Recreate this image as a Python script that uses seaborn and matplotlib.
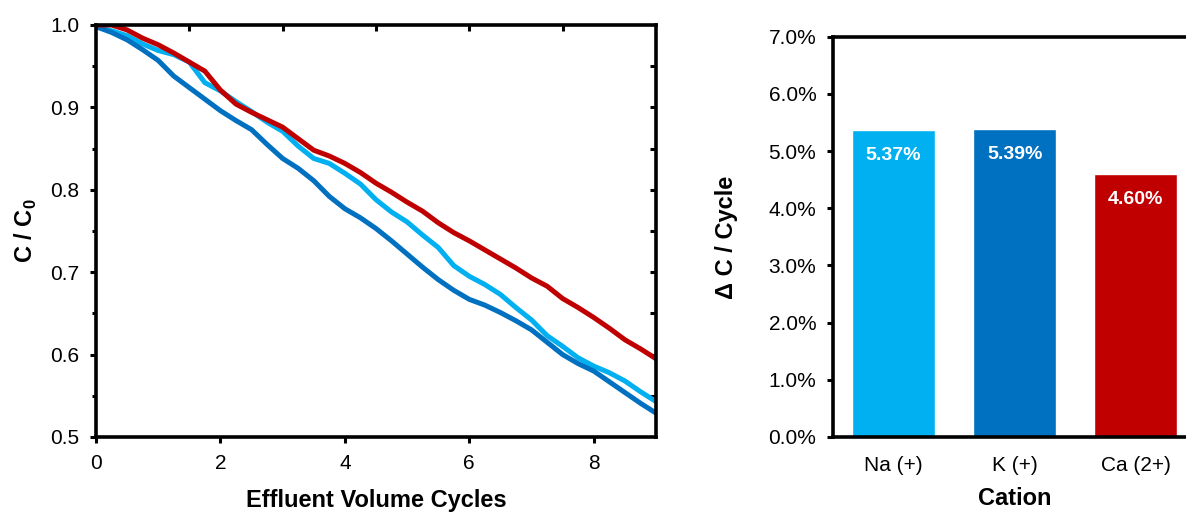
import numpy as np
import pandas as pd
import matplotlib
matplotlib.use('Agg')
import matplotlib.pyplot as plt
import seaborn as sns

# effluent volume cycles (read every 0.25 cycle)
cycles = [0.0, 0.25, 0.5, 0.75, 1.0, 1.25, 1.5, 1.75, 2.0, 2.25, 2.5, 2.75,
          3.0, 3.25, 3.5, 3.75, 4.0, 4.25, 4.5, 4.75, 5.0, 5.25, 5.5, 5.75,
          6.0, 6.25, 6.5, 6.75, 7.0, 7.25, 7.5, 7.75, 8.0, 8.25, 8.5, 8.75, 9.0]

na_c = [0.998, 0.993, 0.987, 0.977, 0.969, 0.964, 0.955, 0.930, 0.920, 0.907,
        0.895, 0.882, 0.871, 0.853, 0.838, 0.832, 0.820, 0.807, 0.788, 0.773,
        0.761, 0.745, 0.730, 0.708, 0.695, 0.685, 0.673, 0.657, 0.642, 0.623,
        0.610, 0.596, 0.586, 0.578, 0.568, 0.555, 0.543]
k_c = [0.998, 0.991, 0.982, 0.970, 0.957, 0.938, 0.924, 0.910, 0.896, 0.884,
       0.873, 0.855, 0.838, 0.826, 0.811, 0.792, 0.777, 0.766, 0.753, 0.738,
       0.722, 0.706, 0.691, 0.678, 0.667, 0.660, 0.651, 0.641, 0.630, 0.615,
       0.600, 0.589, 0.580, 0.567, 0.554, 0.541, 0.529]
ca_c = [1.000, 1.000, 0.994, 0.984, 0.976, 0.966, 0.955, 0.944, 0.921, 0.904,
        0.894, 0.885, 0.876, 0.862, 0.848, 0.841, 0.832, 0.821, 0.808, 0.797,
        0.785, 0.774, 0.760, 0.748, 0.738, 0.727, 0.716, 0.705, 0.693, 0.683,
        0.668, 0.657, 0.645, 0.632, 0.618, 0.607, 0.595]

cations = ['Na (+)', 'K (+)', 'Ca (2+)']
rate_pct = [5.37, 5.39, 4.60]
colors = ['#00B0F0', '#0070C0', '#C00000']

sns.set_style('ticks')
plt.rcParams['font.family'] = ['Liberation Sans', 'DejaVu Sans']
plt.rcParams['mathtext.fontset'] = 'custom'
plt.rcParams['mathtext.rm'] = 'Liberation Sans'
plt.rcParams['mathtext.bf'] = 'Liberation Sans:bold'
plt.rcParams['text.color'] = 'black'
plt.rcParams['axes.labelcolor'] = 'black'
plt.rcParams['xtick.color'] = 'black'
plt.rcParams['ytick.color'] = 'black'

fig = plt.figure(figsize=(11.86, 5.15), dpi=100)
ax1 = fig.add_axes([0.0809, 0.1515, 0.4722, 0.8])
ax2 = fig.add_axes([0.7024, 0.1515, 0.3061, 0.777])

# left: breakthrough curves
long_df = pd.DataFrame({
    'cycles': cycles * 3,
    'c': na_c + k_c + ca_c,
    'cation': [cations[0]] * len(cycles) + [cations[1]] * len(cycles) + [cations[2]] * len(cycles),
})
sns.lineplot(data=long_df, x='cycles', y='c', hue='cation', palette=colors,
             linewidth=3.6, legend=False, ax=ax1)
ax1.set_xlim(0, 9)
ax1.set_ylim(0.5, 1.0)
ax1.set_xticks([0, 2, 4, 6, 8])
ax1.set_yticks([0.5, 0.6, 0.7, 0.8, 0.9, 1.0])
ax1.set_yticks(np.arange(0.55, 1.0, 0.1), minor=True)
ax1.yaxis.set_major_formatter(matplotlib.ticker.FormatStrFormatter('%.1f'))
ax1.tick_params(axis='both', which='major', labelsize=15, width=2.2, length=4, direction='out', pad=8)
ax1.tick_params(axis='y', which='minor', width=2.2, length=3, direction='out')
ax1.set_xlabel('Effluent Volume Cycles', fontsize=17, fontweight='bold', labelpad=12)
ax1.set_ylabel(r'C / C$_\mathbf{0}$', fontsize=17, fontweight='bold', labelpad=8)
for sp in ax1.spines.values():
    sp.set_visible(True)
    sp.set_linewidth(2.6)
    sp.set_color('black')

top = ax1.secondary_xaxis('top')
top.set_xticks([1.5, 3.0, 4.5, 6.0, 7.5])
top.tick_params(direction='in', length=4, width=2.2, labeltop=False)
top.spines['top'].set_visible(False)
right = ax1.secondary_yaxis('right')
right.set_yticks(np.arange(0.55, 1.0, 0.05))
right.tick_params(direction='in', length=4, width=2.2, labelright=False)
right.spines['right'].set_visible(False)

# right: removal rate per cycle
bar_df = pd.DataFrame({'cation': cations, 'rate': rate_pct})
sns.barplot(data=bar_df, x='cation', y='rate', hue='cation', palette=colors,
            width=0.69, saturation=1, legend=False, ax=ax2)
ax2.set_xlim(-0.5, 2.5)
ax2.set_ylim(0, 7)
ax2.set_yticks(range(0, 8))
ax2.set_yticklabels([f'{v:.1f}%' for v in range(0, 8)])
ax2.tick_params(axis='y', labelsize=15, width=2.2, length=4, direction='out', pad=8)
ax2.tick_params(axis='x', labelsize=15, length=0, pad=14)
ax2.set_xlabel('Cation', fontsize=17, fontweight='bold', labelpad=8)
ax2.set_ylabel('Δ C / Cycle', fontsize=17, fontweight='bold', labelpad=22)
for sp in ['left', 'top', 'bottom', 'right']:
    ax2.spines[sp].set_visible(True)
    ax2.spines[sp].set_linewidth(2.6)
    ax2.spines[sp].set_color('black')
for i, v in enumerate(rate_pct):
    ax2.text(i, v - 0.45, f'{v:.2f}%', ha='center', va='center',
             color='white', fontsize=14, fontweight='bold')

fig.savefig('out.png', dpi=100)
